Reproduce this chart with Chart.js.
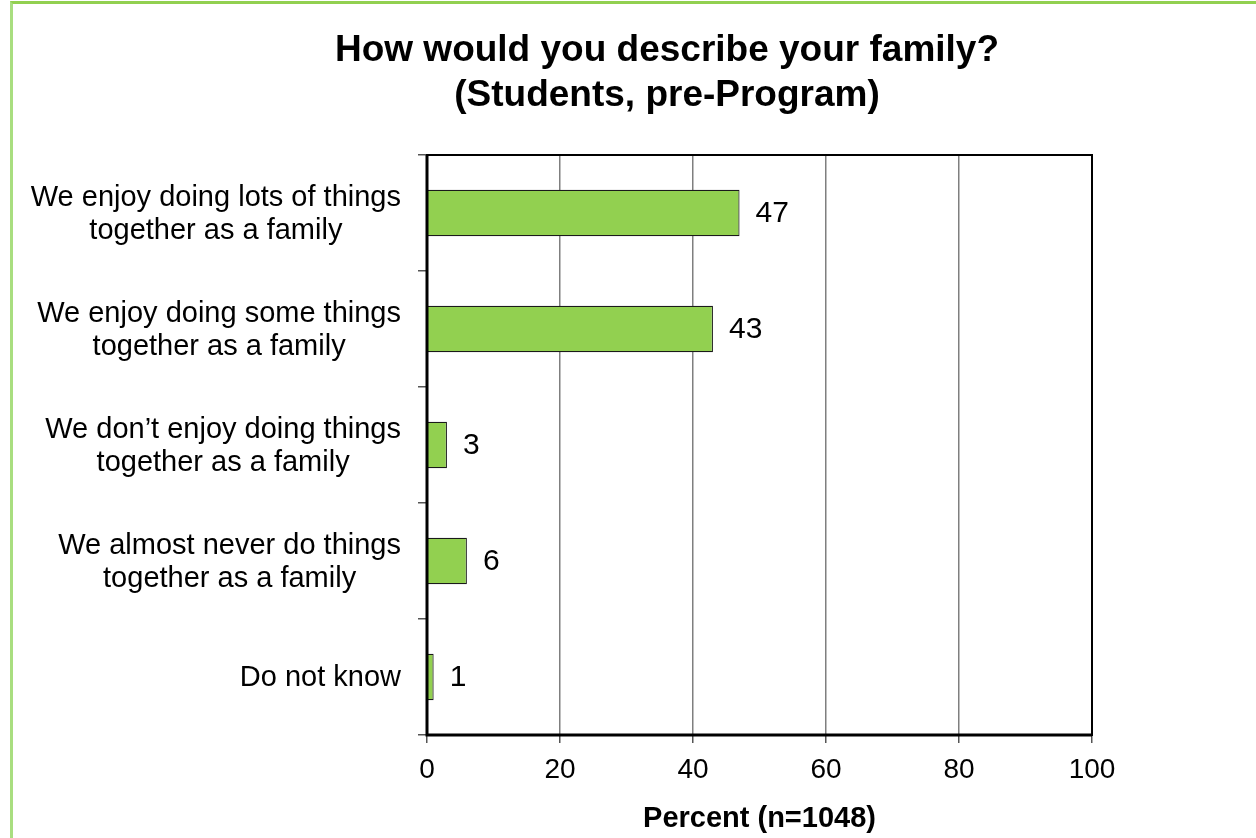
<!DOCTYPE html>
<html>
<head>
<meta charset="utf-8">
<script src="https://cdn.jsdelivr.net/npm/chart.js@4"></script>
<style>
  html, body { margin: 0; padding: 0; background: #fff; }
  #wrap { position: relative; width: 1256px; height: 838px; }
  #frame { position: absolute; left: 10px; top: 1px; right: 0; bottom: 0;
           border-top: 3px solid #92D050; border-left: 3px solid #A9DE80; }
  canvas { position: absolute; left: 0; top: 0; }
</style>
</head>
<body>
<div id="wrap">
  <div id="frame"></div>
  <canvas id="myChart" width="1256" height="838"></canvas>
</div>
<script>
const titleLines = ['How would you describe your family?', '(Students, pre-Program)'];
const categories = [
    ['We enjoy doing lots of things', 'together as a family'],
    ['We enjoy doing some things', 'together as a family'],
    ['We don\u2019t enjoy doing things', 'together as a family'],
    ['We almost never do things', 'together as a family'],
    ['Do not know']
];
const percents = [47, 43, 3, 6, 1];
const xTicks = [0, 20, 40, 60, 80, 100];
const xTitle = 'Percent (n=1048)';

(() => {
    const ctx = document.getElementById('myChart').getContext('2d');
    const FONT = 'Arial, "Liberation Sans", sans-serif';

    // title, plot box, category labels and value labels
    const extras = {
        id: 'extras',
        afterDraw(chart) {
            const c = chart.ctx;
            const a = chart.chartArea;
            c.save();
            c.fillStyle = '#000';
            c.textAlign = 'center';
            c.textBaseline = 'middle';
            c.font = 'bold 37px ' + FONT;
            titleLines.forEach((t, i) => c.fillText(t, 667, 51 + i * 45));

            c.strokeStyle = '#000';
            c.lineWidth = 2;
            c.strokeRect(a.left, a.top, a.right - a.left, a.bottom - a.top);
            c.lineWidth = 3;
            c.beginPath();
            c.moveTo(a.left, a.top);
            c.lineTo(a.left, a.bottom);
            c.lineTo(a.right, a.bottom);
            c.stroke();

            // category labels: block right aligned, lines centred inside it
            const yScale = chart.scales.y;
            const rightEdge = a.left - 26;
            const lh = 33;
            c.font = '29px ' + FONT;
            categories.forEach((lines, i) => {
                const yc = yScale.getPixelForTick(i);
                const w = Math.max(...lines.map(l => c.measureText(l).width));
                const xc = rightEdge - w / 2;
                const y0 = yc - (lines.length - 1) * lh / 2;
                lines.forEach((l, j) => c.fillText(l, xc, y0 + j * lh + 1));
            });

            c.font = '30px ' + FONT;
            c.textAlign = 'left';
            chart.getDatasetMeta(0).data.forEach((bar, i) => {
                c.fillText(String(percents[i]), bar.x + 16, bar.y + 1);
            });
            c.restore();
        }
    };

    new Chart(ctx, {
        type: 'bar',
        data: {
            labels: categories,
            datasets: [{
                data: percents,
                backgroundColor: '#92D050',
                borderColor: '#1a1a1a',
                borderWidth: 1.2,
                barPercentage: 0.8,
                categoryPercentage: 0.5
            }]
        },
        plugins: [extras],
        options: {
            indexAxis: 'y',
            responsive: false,
            animation: false,
            layout: { padding: { top: 155, right: 164, left: 0, bottom: 0 } },
            plugins: {
                legend: { display: false },
                tooltip: { enabled: false }
            },
            scales: {
                x: {
                    min: 0,
                    max: 100,
                    afterBuildTicks: (scale) => {
                        scale.ticks = xTicks.map(v => ({ value: v }));
                    },
                    afterFit: (scale) => { scale.height = 103; },
                    grid: {
                        color: '#7f7f7f',
                        lineWidth: 1.5,
                        tickLength: 8,
                        tickColor: '#555'
                    },
                    border: { display: false },
                    ticks: {
                        color: '#000',
                        padding: 10,
                        font: { family: FONT, size: 28 }
                    },
                    title: {
                        display: true,
                        text: xTitle,
                        color: '#000',
                        padding: { top: 0, bottom: 2 },
                        font: { family: FONT, size: 29, weight: 'bold' }
                    }
                },
                y: {
                    afterFit: (scale) => { scale.width = 427; },
                    grid: {
                        offset: true,
                        drawOnChartArea: false,
                        tickLength: 9,
                        color: '#555',
                        lineWidth: 1.5
                    },
                    border: { display: false },
                    ticks: {
                        color: 'rgba(0,0,0,0)',
                        padding: 17,
                        font: { family: FONT, size: 29, lineHeight: 1.15 }
                    }
                }
            }
        }
    });
})();
</script>
</body>
</html>
